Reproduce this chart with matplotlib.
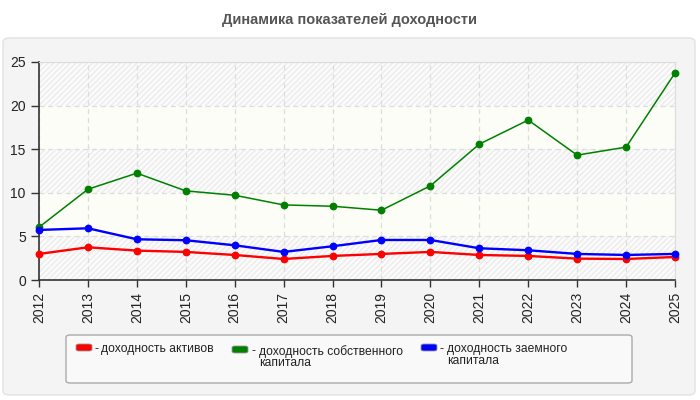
import matplotlib
matplotlib.use("Agg")
import matplotlib.pyplot as plt
from matplotlib.patches import FancyBboxPatch

years = list(range(2012, 2026))
roa = [2.99, 3.75, 3.37, 3.22, 2.87, 2.41, 2.76, 2.99, 3.22, 2.87, 2.76, 2.45, 2.41, 2.64]
roe = [6.05, 10.41, 12.25, 10.22, 9.72, 8.61, 8.46, 8.0, 10.8, 15.58, 18.34, 14.32, 15.24, 23.74]
rod = [5.74, 5.93, 4.67, 4.56, 3.98, 3.22, 3.87, 4.59, 4.59, 3.64, 3.41, 2.99, 2.87, 2.99]

title = "Динамика показателей доходности"
labels = ["доходность активов", "доходность собственного\nкапитала", "доходность заемного\nкапитала"]
colors = ["#ff0000", "#008000", "#0000ff"]

W, H = 700, 400
fig = plt.figure(figsize=(7, 4), dpi=100)
fig.patch.set_facecolor("white")
plt.rcParams['font.family'] = ['Liberation Sans', 'DejaVu Sans']

def px(x, y):
    return x / W, 1 - y / H

# outer panel (behind the axes)
panel = FancyBboxPatch(px(3, 395), 692 / W, 357 / H, boxstyle="round,pad=0,rounding_size=0.01",
                       transform=fig.transFigure, facecolor="#f4f4f4", edgecolor="#e2e2e2", lw=1, zorder=-5)
fig.patches.append(panel)

fig.text(0.5, 1 - 20 / H, title, ha="center", va="center", fontsize=10.5, fontweight="bold", color="#555555")

l, r, t, b = 39, 675, 62, 280
ax = fig.add_axes([l / W, 1 - b / H, (r - l) / W, (b - t) / H])
ax.set_facecolor("#fdfdf7")

# alternating hatched bands
for lo in [0, 10, 20]:
    ax.axhspan(lo, lo + 5, facecolor="#fbfbfb", edgecolor="#ececec", hatch="//////", lw=0, zorder=0)

ax.set_xlim(2012, 2025)
ax.set_ylim(0, 25)
ax.grid(True, color="#dddddd", linestyle=(0, (4, 3)), lw=0.9)
ax.set_axisbelow(True)

ax.plot(years, roa, color=colors[0], lw=1.7, marker="o", ms=4.6, zorder=3, clip_on=False)
ax.plot(years, roe, color=colors[1], lw=1.1, marker="o", ms=4.6, zorder=3, clip_on=False)
ax.plot(years, rod, color=colors[2], lw=1.7, marker="o", ms=4.6, zorder=3, clip_on=False)

ax.set_xticks(years)
ax.set_xticklabels([str(y) for y in years], rotation=90, fontsize=10, color="#222222")
ax.set_yticks([0, 5, 10, 15, 20, 25])
ax.tick_params(axis="y", labelsize=10, colors="#222222", length=6, width=1, direction="out", color="#333333")
ax.tick_params(axis="x", length=5, width=1, color="#333333")
for s in ["top", "right"]:
    ax.spines[s].set_color("#dddddd")
for s in ["left", "bottom"]:
    ax.spines[s].set_color("#333333")
    ax.spines[s].set_linewidth(1.2)

# legend box
lb = FancyBboxPatch(px(66, 383), 566 / W, 48 / H, boxstyle="round,pad=0,rounding_size=0.006",
                    transform=fig.transFigure, facecolor="#f9f9f9", edgecolor="#aaaaaa", lw=1, zorder=-4)
fig.patches.append(lb)

# (swatch x, swatch top y, text x)
entries = [(76, 344, 101), (232, 346, 259), (421, 344, 447)]
for (x0, y0, tx), c, lab in zip(entries, colors, labels):
    sw = FancyBboxPatch(px(x0, y0 + 7), 16 / W, 7 / H, boxstyle="round,pad=0,rounding_size=0.004",
                        transform=fig.transFigure, facecolor=c, edgecolor="#999999", lw=0.6)
    fig.patches.append(sw)
    fig.text((x0 + 19) / W, 1 - (y0 - 1) / H, "-", ha="left", va="top", fontsize=8.7, color="#222222")
    fig.text(tx / W, 1 - (y0 - 1) / H, lab, ha="left", va="top", fontsize=8.7,
             color="#222222", linespacing=0.95)

fig.savefig("out.png", dpi=100)
